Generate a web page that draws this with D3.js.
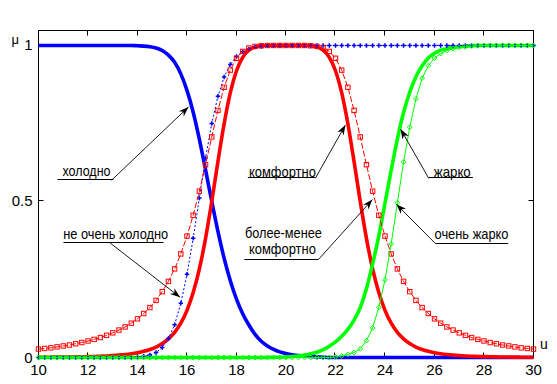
<!DOCTYPE html>
<html><head><meta charset="utf-8">
<script src="https://cdn.jsdelivr.net/npm/d3@7"></script>
<style>html,body{margin:0;padding:0;background:#fff;}svg{display:block;font-family:"Liberation Sans",Arial,sans-serif;}</style>
</head><body><svg id="c" width="557" height="384"></svg>
<script>
// ---- data ----
const uValues = [10,10.25,10.5,10.75,11,11.25,11.5,11.75,12,12.25,12.5,12.75,13,13.25,13.5,13.75,
  14,14.25,14.5,14.75,15,15.25,15.5,15.75,16,16.25,16.5,16.75,17,17.25,17.5,17.75,
  18,18.25,18.5,18.75,19,19.25,19.5,19.75,20,20.25,20.5,20.75,21,21.25,21.5,21.75,
  22,22.25,22.5,22.75,23,23.25,23.5,23.75,24,24.25,24.5,24.75,25,25.25,25.5,25.75,
  26,26.25,26.5,26.75,27,27.25,27.5,27.75,28,28.25,28.5,28.75,29,29.25,29.5,29.75,30];

const cold = [1,1,1,1,1,1,1,1,1,1,1,1,1,1,1,1,
  0.999,0.998,0.996,0.992,0.984,0.969,0.946,0.909,0.856,0.786,0.699,0.601,0.5,0.404,0.318,0.246,
  0.187,0.14,0.104,0.074,0.052,0.037,0.026,0.018,0.013,0.009,0.006,0.004,0.003,0.002,0.001,0,
  0,0,0,0,0,0,0,0,0,0,0,0,0,0,0,0,
  0,0,0,0,0,0,0,0,0,0,0,0,0,0,0,0,0];

const notVeryCold = [0,0,0,0,0,0,0,0,0,0,0,0,0,0,0,0,
  0.002,0.004,0.008,0.016,0.032,0.061,0.105,0.174,0.267,0.382,0.511,0.639,0.75,0.837,0.899,0.939,
  0.965,0.98,0.989,0.995,0.997,0.999,0.999,1,1,1,1,1,1,1,1,1,
  1,1,1,1,1,1,1,1,1,1,1,1,1,1,1,1,
  1,1,1,1,1,1,1,1,1,1,1,1,1,1,1,1,1];

const comfort = [0.0007,0.0008,0.001,0.0012,0.0014,0.0016,0.0019,0.0023,0.0028,0.0034,0.0041,0.005,0.0062,0.0077,0.0096,0.0121,
  0.0154,0.0198,0.0257,0.0336,0.0446,0.0597,0.0807,0.11,0.151,0.208,0.284,0.382,0.5,0.628,0.749,0.849,
  0.919,0.962,0.985,0.995,0.999,1,1,1,1,1,1,1,0.999,0.995,0.985,0.962,
  0.919,0.849,0.749,0.628,0.5,0.382,0.284,0.208,0.151,0.11,0.0807,0.0597,0.0446,0.0336,0.0257,0.0198,
  0.0154,0.0121,0.0096,0.0077,0.0062,0.005,0.0041,0.0034,0.0028,0.0023,0.0019,0.0016,0.0014,0.0012,0.001,0.0008,0.0007];

const moreLessComfort = [0.027,0.029,0.031,0.034,0.037,0.04,0.044,0.048,0.053,0.058,0.064,0.071,0.079,0.088,0.098,0.11,
  0.124,0.141,0.16,0.183,0.211,0.244,0.284,0.332,0.389,0.456,0.533,0.618,0.707,0.792,0.866,0.921,
  0.959,0.981,0.992,0.997,0.999,1,1,1,1,1,1,1,0.999,0.997,0.992,0.981,
  0.959,0.921,0.866,0.792,0.707,0.618,0.533,0.456,0.389,0.332,0.284,0.244,0.211,0.183,0.16,0.141,
  0.124,0.11,0.098,0.088,0.079,0.071,0.064,0.058,0.053,0.048,0.044,0.04,0.037,0.034,0.031,0.029,0.027];

const hot = [0,0,0,0,0,0,0,0,0,0,0,0,0,0,0,0,
  0,0,0,0,0,0,0,0,0,0,0,0,0,0,0,0,
  0,0,0,0,0,0,0.001,0.001,0.002,0.003,0.005,0.008,0.012,0.017,0.025,0.036,
  0.05,0.068,0.09,0.12,0.16,0.22,0.3,0.39,0.495,0.6,0.7,0.785,0.85,0.9,0.935,0.96,
  0.975,0.985,0.99,0.994,0.996,0.998,0.999,1,1,1,1,1,1,1,1,1,1];

const veryHot = [0,0,0,0,0,0,0,0,0,0,0,0,0,0,0,0,
  0,0,0,0,0,0,0,0,0,0,0,0,0,0,0,0,
  0,0,0,0,0,0,0,0,0,0,0,0,0,0,0,0,
  0.002,0.005,0.01,0.016,0.028,0.054,0.095,0.161,0.249,0.364,0.496,0.626,0.738,0.829,0.895,0.935,
  0.96,0.974,0.984,0.99,0.994,0.996,0.998,0.999,1,1,1,1,1,1,1,1,1];

const xTicks = [10,12,14,16,18,20,22,24,26,28,30];
const xTickLabels = ["10","12","14","16","18","20","22","24","26","28","30"];
const yTicks = [0,0.5,1];
const yTickLabels = ["0","0.5","1"];

// annotation texts
const annTexts = ["холодно","не очень холодно","комфортно","более-менее","комфортно","жарко","очень жарко"];

// ---- drawing ----
const svg = d3.select("#c");
const x = d3.scaleLinear().domain([10,30]).range([38.5,533.5]);
const y = d3.scaleLinear().domain([0,1.048]).range([357.5,30.5]);
const crisp = v => Math.floor(v - 0.5) + 0.5;

// axes box
svg.append("rect")
  .attr("x", x(10)).attr("y", y(1.048))
  .attr("width", x(30) - x(10)).attr("height", y(0) - y(1.048))
  .attr("fill","none").attr("stroke","#000").attr("stroke-width",1);

// ticks
const tl = 5;
xTicks.forEach((t,i) => {
  const px = crisp(x(t));
  svg.append("line").attr("x1",px).attr("x2",px).attr("y1",y(0)).attr("y2",y(0)-tl).attr("stroke","#000");
  svg.append("line").attr("x1",px).attr("x2",px).attr("y1",y(1.048)).attr("y2",y(1.048)+tl).attr("stroke","#000");
  svg.append("text").attr("x", x(t)).attr("y", 374.5).attr("text-anchor","middle")
    .attr("font-size",15).attr("fill","#000").text(xTickLabels[i]);
});
yTicks.forEach((t,i) => {
  const py = crisp(y(t));
  svg.append("line").attr("x1",x(10)).attr("x2",x(10)+tl).attr("y1",py).attr("y2",py).attr("stroke","#000");
  svg.append("line").attr("x1",x(30)).attr("x2",x(30)-tl).attr("y1",py).attr("y2",py).attr("stroke","#000");
  svg.append("text").attr("x", 32.5).attr("y", py + 5.5).attr("text-anchor","end")
    .attr("font-size",15).attr("fill","#000").text(yTickLabels[i]);
});
svg.append("text").attr("x",11.5).attr("y",44).attr("font-size",13).text("μ");
svg.append("text").attr("x",540).attr("y",349).attr("font-size",14).text("u");

const mk = arr => uValues.map((u,i) => ({u, v: arr[i]}));
const lineSmooth = d3.line().x(d => x(d.u)).y(d => y(d.v)).curve(d3.curveMonotoneX);
const lineLin = d3.line().x(d => x(d.u)).y(d => y(d.v));

// thick base sets
[[cold,"#0000ff"],[comfort,"#ff0000"],[hot,"#00ff00"]].forEach(([arr,col]) => {
  svg.append("path").attr("d", lineSmooth(mk(arr))).attr("fill","none")
    .attr("stroke",col).attr("stroke-width",3.6).attr("stroke-linejoin","round");
});

// не очень холодно: blue dotted with point markers
svg.append("path").attr("d", lineLin(mk(notVeryCold))).attr("fill","none")
  .attr("stroke","#0000ff").attr("stroke-width",1).attr("stroke-dasharray","2,2");
svg.append("g").selectAll("path").data(mk(notVeryCold)).join("path")
  .attr("d", d3.symbol(d3.symbolCross, 11)())
  .attr("transform", d => `translate(${x(d.u)},${y(d.v)})`)
  .attr("fill","#0000ff");

// более-менее комфортно: red dashed with squares
svg.append("path").attr("d", lineLin(mk(moreLessComfort))).attr("fill","none")
  .attr("stroke","#ff0000").attr("stroke-width",1).attr("stroke-dasharray","6,2");
svg.append("g").selectAll("rect").data(mk(moreLessComfort)).join("rect")
  .attr("x", d => x(d.u) - 2.2).attr("y", d => y(d.v) - 2.2)
  .attr("width",4.4).attr("height",4.4)
  .attr("fill","none").attr("stroke","#ff0000").attr("stroke-width",1);

// очень жарко: green thin with diamonds
svg.append("path").attr("d", lineLin(mk(veryHot))).attr("fill","none")
  .attr("stroke","#00ff00").attr("stroke-width",1);
svg.append("g").selectAll("path").data(mk(veryHot)).join("path")
  .attr("d","M0,-2.4L2.4,0L0,2.4L-2.4,0Z")
  .attr("transform", d => `translate(${x(d.u)},${y(d.v)})`)
  .attr("fill","none").attr("stroke","#00ff00").attr("stroke-width",1);

// ---- annotations (data coordinates) ----
function label(txt, u, v, len) {
  svg.append("text").attr("x", x(u)).attr("y", y(v)).attr("font-size",14.5)
    .attr("textLength", len).attr("lengthAdjust","spacingAndGlyphs").attr("fill","#000").text(txt);
}
function uline(u1, u2, v) {
  svg.append("line").attr("x1", x(u1)).attr("x2", x(u2)).attr("y1", crisp(y(v))).attr("y2", crisp(y(v)))
    .attr("stroke","#000").attr("stroke-width",1);
}
function arrow(u1, v1, u2, v2) {
  const x1 = x(u1), y1 = y(v1), x2 = x(u2), y2 = y(v2);
  svg.append("line").attr("x1",x1).attr("y1",y1).attr("x2",x2).attr("y2",y2)
    .attr("stroke","#000").attr("stroke-width",0.9);
  const a = Math.atan2(y2 - y1, x2 - x1), L = 10, W = 3.6, N = 7;
  const ca = Math.cos(a), sa = Math.sin(a);
  const pt = (b, s) => [x2 - b * ca - s * sa, y2 - b * sa + s * ca];
  const p1 = pt(L, W), p2 = pt(N, 0), p3 = pt(L, -W);
  svg.append("path").attr("d", `M${x2},${y2}L${p1[0]},${p1[1]}L${p2[0]},${p2[1]}L${p3[0]},${p3[1]}Z`)
    .attr("fill","#000");
}

// холодно
label(annTexts[0], 10.97, 0.581, 48);
uline(10.77, 13.03, 0.568);
arrow(12.95, 0.568, 16.06, 0.803);
// не очень холодно
label(annTexts[1], 11.0, 0.379, 105);
uline(11.01, 15.05, 0.368);
arrow(12.88, 0.368, 15.72, 0.193);
// комфортно
label(annTexts[2], 18.5, 0.579, 67);
uline(18.46, 21.19, 0.575);
arrow(21.19, 0.575, 22.4, 0.745);
// более-менее комфортно
label(annTexts[3], 18.34, 0.384, 77);
label(annTexts[4], 18.5, 0.332, 67);
uline(18.32, 21.31, 0.314);
arrow(21.31, 0.314, 23.49, 0.506);
// жарко
label(annTexts[5], 25.97, 0.579, 37);
uline(25.77, 27.55, 0.574);
arrow(25.77, 0.574, 24.63, 0.732);
// очень жарко
label(annTexts[6], 26.0, 0.381, 74);
uline(26.04, 28.98, 0.365);
arrow(26.04, 0.365, 24.46, 0.491);
</script></body></html>
